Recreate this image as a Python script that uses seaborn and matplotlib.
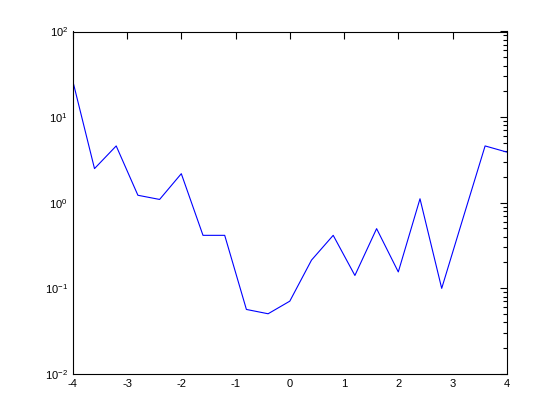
import numpy as np
import pandas as pd
import matplotlib
matplotlib.use('Agg')
import matplotlib.pyplot as plt
import matplotlib.ticker as mticker
import seaborn as sns

# values (x step 0.4)
x_vals = [-4.0, -3.6, -3.2, -2.8, -2.4, -2.0, -1.6, -1.2, -0.8, -0.4, 0.0,
          0.4, 0.8, 1.2, 1.6, 2.0, 2.4, 2.8, 3.2, 3.6, 4.0]
y_vals = [26.4, 2.5, 4.6, 1.22, 1.09, 2.18, 0.415, 0.415, 0.0565, 0.0503, 0.0706,
          0.213, 0.415, 0.141, 0.497, 0.155, 1.11, 0.0996, 0.68, 4.6, 3.9]
x_ticks = [-4, -3, -2, -1, 0, 1, 2, 3, 4]

df = pd.DataFrame({'x': x_vals, 'y': y_vals})

sns.set_style('white')
plt.rcParams['font.family'] = ['Liberation Sans', 'DejaVu Sans']
plt.rcParams['mathtext.fontset'] = 'custom'
plt.rcParams['mathtext.rm'] = 'Liberation Sans'
plt.rcParams['mathtext.it'] = 'Liberation Sans'

fig = plt.figure(figsize=(5.6, 4.2), dpi=100)
ax = fig.add_axes([0.13, 0.11, 0.775, 0.815])

sns.lineplot(data=df, x='x', y='y', ax=ax, color='#0000ff', linewidth=0.8)

ax.set_yscale('log')
ax.set_xlim(-4, 4)
ax.set_ylim(1e-2, 1e2)
ax.set_xticks(x_ticks)
ax.set_xticklabels([str(t) for t in x_ticks])
ax.yaxis.set_major_locator(mticker.LogLocator(base=10, numticks=10))
ax.yaxis.set_minor_locator(mticker.LogLocator(base=10, subs=np.arange(2, 10), numticks=10))
ax.yaxis.set_major_formatter(mticker.LogFormatterMathtext())
ax.set_xlabel('')
ax.set_ylabel('')

for s in ax.spines.values():
    s.set_color('black')
    s.set_linewidth(0.8)
ax.tick_params(which='both', direction='in', top=True, right=True,
               colors='black', labelsize=8, width=0.8)
ax.tick_params(which='major', length=5)
ax.tick_params(which='minor', length=3)

fig.savefig('out.png', dpi=100)
